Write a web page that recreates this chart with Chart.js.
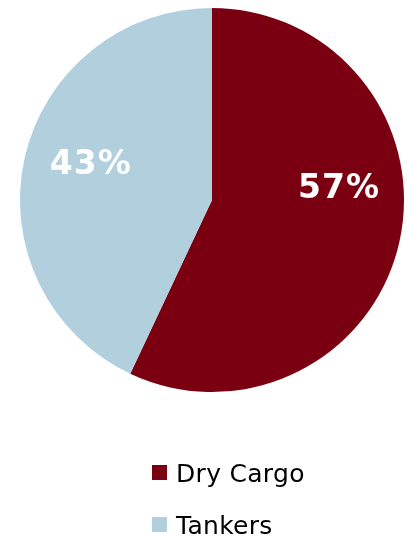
<!DOCTYPE html>
<html>
<head>
<meta charset="utf-8">
<script src="https://cdn.jsdelivr.net/npm/chart.js@4"></script>
<style>
  html, body { margin: 0; padding: 0; background: #ffffff; }
  #wrap { width: 407px; height: 537px; position: relative; }
</style>
</head>
<body>
<div id="wrap"><canvas id="c" width="407" height="537"></canvas></div>
<script>
// Fleet split by vessel type (share of total, %)
const categories = ['Dry Cargo', 'Tankers'];
const shares = [57, 43];
const sliceColors = ['#7a0011', '#b1cfdd'];
// Label placement per slice: fraction of radius and angle shift (deg) from slice middle
const labelRadius = [0.663, 0.663];
const labelShift = [-18.9, 4.3];

const FONT = '"DejaVu Sans", Verdana, sans-serif';

// Percentage labels drawn inside the slices
const sliceLabels = {
  id: 'sliceLabels',
  afterDatasetsDraw(chart) {
    const ctx = chart.ctx;
    const meta = chart.getDatasetMeta(0);
    const size = 33;
    ctx.save();
    ctx.fillStyle = '#ffffff';
    ctx.font = 'bold ' + size + 'px ' + FONT;
    ctx.letterSpacing = '1px';
    ctx.textAlign = 'center';
    ctx.textBaseline = 'alphabetic';
    meta.data.forEach((arc, i) => {
      const p = arc.getProps(['x', 'y', 'startAngle', 'endAngle', 'outerRadius'], true);
      const mid = (p.startAngle + p.endAngle) / 2 + labelShift[i] * Math.PI / 180;
      const r = p.outerRadius * labelRadius[i];
      const cx = p.x + Math.cos(mid) * r;
      const cy = p.y + Math.sin(mid) * r;
      ctx.fillText(shares[i] + '%', cx + 0.5, cy + 11.5);
    });
    ctx.restore();
  }
};

// Vertical legend beneath the pie
const stackedLegend = {
  id: 'stackedLegend',
  afterDraw(chart) {
    const ctx = chart.ctx;
    const top = chart.chartArea.bottom + 73;
    const rowGap = 52;
    const boxX = 152, box = 15, textX = 176;
    ctx.save();
    ctx.font = '25px ' + FONT;
    ctx.letterSpacing = '0.3px';
    ctx.textAlign = 'left';
    ctx.textBaseline = 'alphabetic';
    categories.forEach((name, i) => {
      const y = top + i * rowGap;
      ctx.fillStyle = sliceColors[i];
      ctx.fillRect(boxX, y, box, box);
      ctx.fillStyle = '#000000';
      ctx.fillText(name, textX, y + 17);
    });
    ctx.restore();
  }
};

new Chart(document.getElementById('c'), {
  type: 'pie',
  data: {
    labels: categories,
    datasets: [{
      data: shares,
      backgroundColor: sliceColors,
      borderWidth: 0,
      hoverOffset: 0
    }]
  },
  options: {
    responsive: false,
    animation: false,
    layout: { padding: { top: 8, left: 20, right: 3, bottom: 145 } },
    plugins: {
      legend: { display: false },
      tooltip: { enabled: false }
    }
  },
  plugins: [sliceLabels, stackedLegend]
});
</script>
</body>
</html>
